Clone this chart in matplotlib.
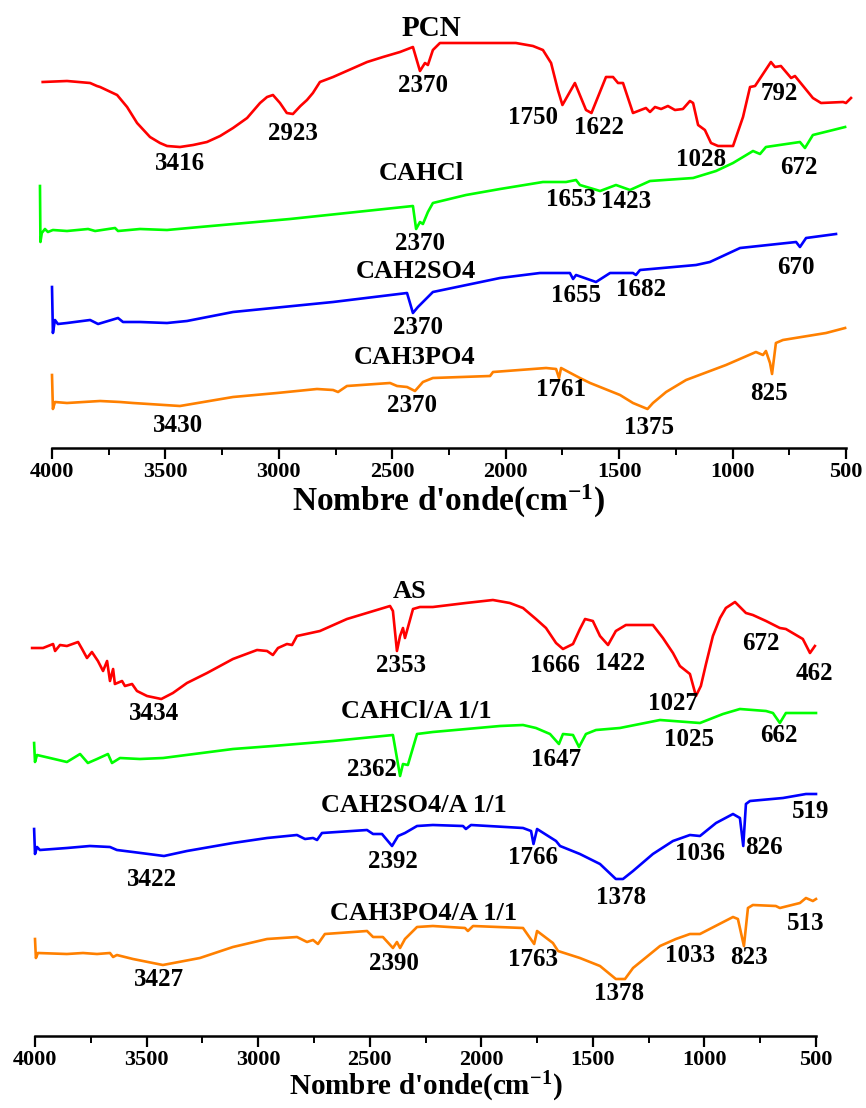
import matplotlib
matplotlib.use("Agg")
import matplotlib.pyplot as plt
from matplotlib.ticker import MultipleLocator

plt.rcParams['font.family'] = ['Liberation Serif', 'DejaVu Serif']
plt.rcParams['font.weight'] = 'bold'
plt.rcParams['mathtext.fontset'] = 'custom'
plt.rcParams['mathtext.rm'] = 'Liberation Serif:bold'
plt.rcParams['mathtext.it'] = 'Liberation Serif:bold'
plt.rcParams['mathtext.bf'] = 'Liberation Serif:bold'

# ---- upper panel: activated carbons (wavenumber cm-1, transmittance a.u. with offset) ----
pcn_wn = [4041, 3934, 3832, 3802, 3788, 3713, 3669, 3625, 3568, 3524, 3493, 3436, 3378,
          3317, 3259, 3202, 3140, 3083, 3052, 3026, 2995, 2965, 2938, 2905, 2876, 2850,
          2819, 2761, 2611, 2541, 2466, 2409, 2378, 2356, 2343, 2321, 2290, 1955, 1880,
          1836, 1800, 1770, 1750, 1695, 1646, 1622, 1558, 1527, 1505, 1483, 1439, 1382,
          1364, 1342, 1315, 1285, 1254, 1219, 1188, 1174, 1152, 1122, 1095, 1064, 998,
          954, 923, 901, 831, 813, 787, 742, 725, 646, 610, 513, 500, 478]
pcn_t = [366, 367, 365, 362, 361, 353, 341, 325, 311, 305, 302, 301, 303,
         306, 312, 320, 330, 345, 351, 353, 345, 335, 334, 342, 348, 355,
         366, 371, 386, 391, 396, 401, 377, 385, 383, 398, 405, 405, 402,
         398, 385, 358, 343, 365, 338, 335, 371, 371, 365, 365, 335, 340,
         336, 341, 339, 342, 338, 339, 347, 345, 323, 318, 305, 302, 302,
         331, 361, 362, 386, 381, 382, 370, 372, 350, 345, 346, 345, 350]

cahcl_wn = [4053, 4051, 4045, 4031, 4018, 3996, 3934, 3841, 3810, 3722, 3709, 3612, 3493,
            3348, 2951, 2409, 2395, 2378, 2365, 2343, 2321, 2175, 2025, 1836, 1734, 1690,
            1673, 1584, 1514, 1452, 1364, 1174, 1073, 998, 910, 879, 853, 703, 681, 646,
            557, 504]
cahcl_t = [262, 206, 215, 219, 216, 218, 217, 219, 217, 220, 217, 219, 218,
           221, 229, 242, 219, 226, 224, 236, 245, 253, 259, 266, 266, 268,
           263, 257, 263, 258, 267, 270, 277, 285, 297, 294, 301, 306, 300, 313,
           318, 321]

cah2so4_wn = [4000, 3996, 3987, 3974, 3934, 3832, 3797, 3709, 3687, 3612, 3493, 3405, 3202,
              2982, 2761, 2435, 2409, 2387, 2321, 2025, 1849, 1717, 1703, 1690, 1602, 1540,
              1439, 1426, 1408, 1161, 1100, 967, 720, 703, 676, 544]
cah2so4_t = [161, 115, 128, 124, 125, 128, 124, 130, 126, 126, 125, 127, 136,
             141, 146, 155, 135, 141, 156, 170, 175, 175, 169, 173, 166, 175,
             175, 173, 178, 183, 186, 200, 206, 201, 210, 214]

cah3po4_wn = [4000, 3996, 3987, 3934, 3788, 3700, 3643, 3436, 3202, 3008, 2832, 2761, 2739,
              2700, 2510, 2479, 2435, 2400, 2365, 2321, 2069, 2056, 1822, 1778, 1765, 1756,
              1673, 1628, 1496, 1439, 1375, 1351, 1293, 1205, 1029, 897, 866, 853, 835, 826,
              809, 778, 588, 504]
cah3po4_t = [73, 39, 46, 45, 47, 46, 45, 42, 51, 55, 59, 58, 56,
             62, 65, 62, 61, 57, 66, 70, 72, 76, 80, 79, 70, 80,
             70, 65, 53, 45, 39, 45, 56, 68, 83, 96, 93, 97, 85, 74,
             105, 108, 115, 120]

# ---- lower panel: composites with alginate ----
as_wn = [4013, 3964, 3919, 3910, 3888, 3857, 3807, 3789, 3767, 3745, 3718, 3695, 3677,
         3664, 3650, 3642, 3610, 3597, 3565, 3543, 3498, 3434, 3382, 3319, 3229, 3113,
         3005, 2960, 2934, 2911, 2871, 2848, 2826, 2723, 2602, 2409, 2396, 2378, 2364,
         2351, 2342, 2306, 2275, 2217, 2069, 1948, 1872, 1813, 1755, 1710, 1665, 1634,
         1589, 1558, 1535, 1500, 1468, 1432, 1397, 1352, 1231, 1186, 1141, 1110, 1065,
         1038, 1016, 993, 962, 930, 904, 863, 814, 783, 724, 662, 635, 559, 527, 505]
as_t = [388, 388, 392, 385, 391, 390, 394, 387, 378, 384, 375, 365, 375,
        355, 367, 352, 355, 350, 352, 345, 340, 337, 343, 353, 363, 377,
        386, 385, 381, 388, 392, 391, 400, 405, 417, 430, 425, 385, 400,
        408, 398, 427, 429, 429, 433, 436, 433, 428, 417, 408, 393, 387,
        392, 407, 417, 415, 400, 391, 405, 411, 411, 398, 383, 370, 362,
        340, 350, 372, 400, 418, 428, 434, 423, 421, 415, 408, 407, 397, 383, 390]

cahcl_a_wn = [4004, 4000, 3991, 3933, 3857, 3798, 3763, 3722, 3673, 3655, 3619, 3530, 3426,
              3113, 2934, 2665, 2396, 2364, 2351, 2329, 2288, 2217, 1916, 1813, 1755, 1692,
              1652, 1634, 1589, 1562, 1531, 1486, 1379, 1199, 1020, 917, 841, 724, 693, 662,
              635, 500]
cahcl_a_t = [293, 274, 281, 278, 274, 282, 273, 277, 282, 273, 278, 277, 278,
             287, 290, 295, 301, 260, 272, 271, 302, 304, 310, 311, 308, 302,
             292, 302, 301, 289, 302, 306, 308, 316, 313, 322, 327, 325, 323, 313,
             323, 323]

cah2so4_a_wn = [4004, 4000, 3991, 3978, 3857, 3754, 3664, 3633, 3561, 3422, 3319, 3113, 2960,
                2826, 2790, 2754, 2736, 2714, 2512, 2485, 2445, 2400, 2373, 2342, 2288, 2217,
                2082, 2069, 2046, 1813, 1777, 1766, 1750, 1665, 1647, 1558, 1468, 1397, 1365,
                1320, 1231, 1141, 1065, 1020, 948, 872, 841, 826, 814, 796, 648, 545, 500]
cah2so4_a_t = [207, 182, 189, 186, 188, 190, 189, 186, 184, 180, 185, 193, 198,
               201, 197, 198, 196, 203, 206, 202, 202, 190, 200, 203, 210, 211,
               210, 207, 211, 208, 205, 192, 207, 195, 190, 182, 172, 157, 157,
               165, 182, 195, 201, 200, 213, 222, 218, 190, 232, 235, 238, 242, 242]

cah3po4_a_wn = [4000, 3996, 3987, 3857, 3785, 3722, 3664, 3650, 3633, 3561, 3427, 3261, 3113,
                2960, 2826, 2781, 2754, 2732, 2701, 2512, 2485, 2441, 2396, 2378, 2364, 2342,
                2288, 2217, 2073, 2060, 2037, 1813, 1763, 1750, 1679, 1656, 1558, 1468, 1397,
                1356, 1320, 1199, 1128, 1065, 1020, 872, 850, 823, 805, 783, 680, 662, 572,
                545, 514, 500]
cah3po4_a_t = [97, 78, 83, 82, 83, 82, 83, 79, 81, 77, 71, 78, 89,
               97, 99, 94, 96, 92, 102, 105, 99, 99, 88, 94, 88, 97,
               109, 110, 108, 105, 110, 108, 92, 105, 93, 85, 78, 70, 57,
               57, 68, 90, 97, 102, 102, 119, 117, 90, 128, 131, 130, 128, 133,
               138, 135, 137]

RED, GREEN, BLUE, ORANGE = '#ff0000', '#00ff00', '#0000ff', '#ff8000'

top_series = [(pcn_wn, pcn_t, RED), (cahcl_wn, cahcl_t, GREEN),
              (cah2so4_wn, cah2so4_t, BLUE), (cah3po4_wn, cah3po4_t, ORANGE)]
bottom_series = [(as_wn, as_t, RED), (cahcl_a_wn, cahcl_a_t, GREEN),
                 (cah2so4_a_wn, cah2so4_a_t, BLUE), (cah3po4_a_wn, cah3po4_a_t, ORANGE)]

# sample names and peak annotations: (text, x in cm-1, y, size)
NAME, PEAK = 19, 18
top_texts = [('PCN', 2329, 420, 21), ('CAHCl', 2373, 275, NAME), ('CAH2SO4', 2396, 176, NAME),
             ('CAH3PO4', 2404, 91, NAME),
             ('3416', 3436, 285, PEAK), ('2923', 2938, 314, PEAK), ('2370', 2365, 363, PEAK),
             ('1750', 1880, 330, PEAK), ('1622', 1589, 320, PEAK), ('1028', 1139, 289, PEAK),
             ('792', 795, 355, PEAK), ('672', 707, 280, PEAK),
             ('2370', 2378, 204, PEAK), ('1653', 1712, 248, PEAK), ('1423', 1470, 246, PEAK),
             ('2370', 2387, 121, PEAK), ('1655', 1690, 153, PEAK), ('1682', 1404, 158, PEAK),
             ('670', 720, 180, PEAK),
             ('3430', 3445, 23, PEAK), ('2370', 2413, 43, PEAK), ('1761', 1756, 58, PEAK),
             ('1375', 1368, 21, PEAK), ('825', 839, 54, PEAK)]
bottom_texts = [('AS', 2320, 445, NAME), ('CAHCl/A 1/1', 2293, 325, NAME),
                ('CAH2SO4/A 1/1', 2302, 230, NAME), ('CAH3PO4/A 1/1', 2257, 122, NAME),
                ('3434', 3467, 322, PEAK), ('2353', 2360, 370, PEAK), ('1666', 1670, 370, PEAK),
                ('1422', 1379, 373, PEAK), ('1027', 1141, 333, PEAK), ('672', 747, 393, PEAK),
                ('462', 509, 363, PEAK),
                ('2362', 2490, 266, PEAK), ('1647', 1665, 277, PEAK), ('1025', 1069, 297, PEAK),
                ('662', 666, 300, PEAK),
                ('3422', 3476, 157, PEAK), ('2392', 2396, 175, PEAK), ('1766', 1768, 178, PEAK),
                ('1378', 1374, 138, PEAK), ('1036', 1020, 183, PEAK), ('826', 733, 189, PEAK),
                ('519', 523, 225, PEAK),
                ('3427', 3444, 57, PEAK), ('2390', 2391, 73, PEAK), ('1763', 1768, 77, PEAK),
                ('1378', 1383, 43, PEAK), ('1033', 1065, 80, PEAK), ('823', 801, 78, PEAK),
                ('513', 545, 113, PEAK)]

fig = plt.figure(figsize=(8.66, 11.08), dpi=100)
ax_top = fig.add_axes([52 / 866, 1 - 448 / 1108, 794 / 866, 438 / 1108])
ax_bot = fig.add_axes([35 / 866, 1 - 1036 / 1108, 781 / 866, 446 / 1108])


def draw_panel(ax, series, texts, ytop, labelsize, labelpad):
    for wn, t, color in series:
        ax.plot(wn, t, color=color, lw=1.9, clip_on=False, solid_joinstyle='round')
    for txt, x, y, size in texts:
        ax.text(x, y, txt, ha='center', va='center', fontsize=size, fontweight='bold')
    ax.set_xlim(4000, 500)
    ax.set_ylim(0, ytop)
    for side in ['left', 'right', 'top']:
        ax.spines[side].set_visible(False)
    ax.spines['bottom'].set_linewidth(1.8)
    ax.set_yticks([])
    ax.xaxis.set_major_locator(MultipleLocator(500))
    ax.xaxis.set_minor_locator(MultipleLocator(250))
    ax.tick_params(axis='x', which='major', direction='out', length=8, width=1.6,
                   labelsize=16, pad=2)
    ax.tick_params(axis='x', which='minor', direction='out', length=5, width=1.4)
    for lab in ax.get_xticklabels():
        lab.set_fontweight('bold')
    ax.set_xlabel(r"Nombre d'onde(cm$^{-1}$)", fontsize=labelsize, fontweight='bold',
                  labelpad=labelpad)


draw_panel(ax_top, top_series, top_texts, 438, 24, 1)
draw_panel(ax_bot, bottom_series, bottom_texts, 446, 21, 0)

fig.savefig('out.png', dpi=100)
